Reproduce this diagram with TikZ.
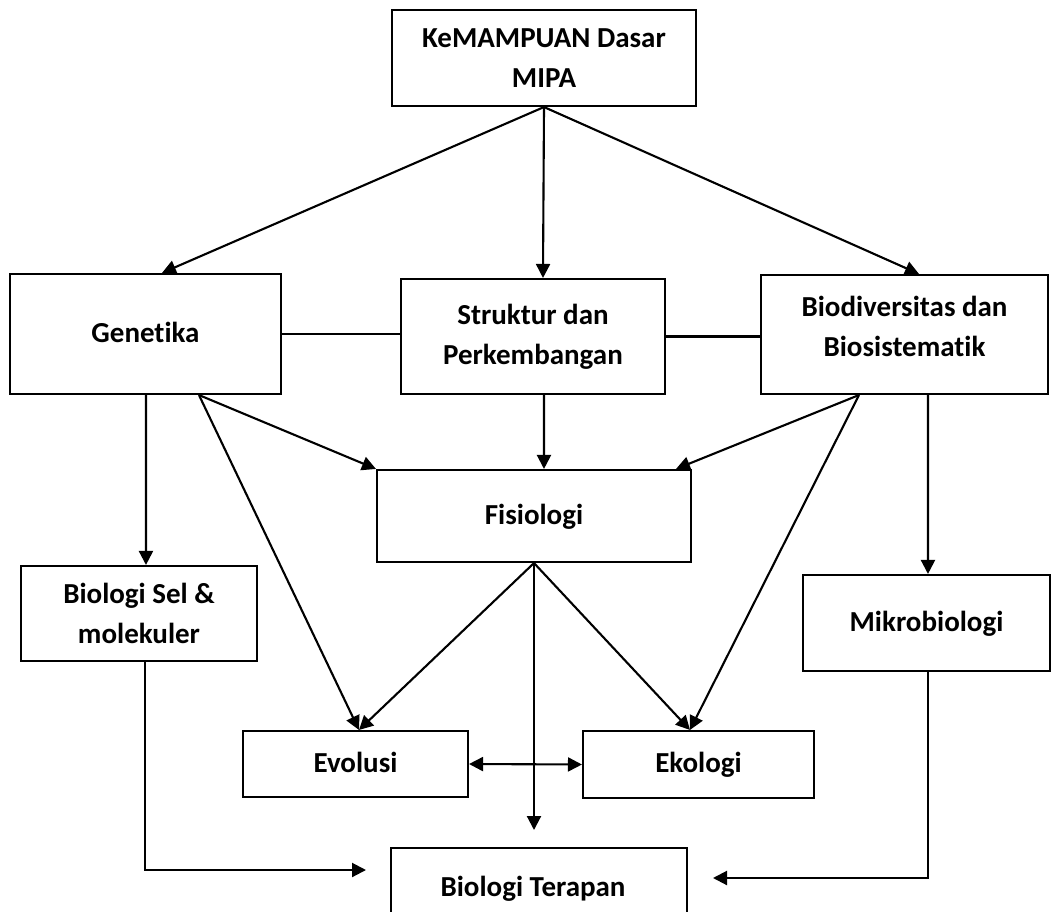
\documentclass[tikz,border=0pt]{standalone}
\usepackage{fontspec}
\setmainfont{Carlito}[Ligatures=NoCommon]
\usetikzlibrary{arrows.meta,calc}
\begin{document}
\begin{tikzpicture}[x=0.02cm,y=-0.02cm,
  lbl/.style={font=\fontsize{16.5}{22.8}\selectfont\bfseries},
  box/.style={draw,line width=1.2pt,inner sep=0pt,align=center,lbl},
  one/.style={text height=0.42cm,text depth=0.1cm},
  arr/.style={line width=1.2pt,-{Triangle[length=0.28cm,width=0.28cm]}},
  dbl/.style={line width=1.2pt,{Triangle[length=0.28cm,width=0.28cm]}-{Triangle[length=0.28cm,width=0.28cm]}},
  ln/.style={line width=1.2pt}]
\clip (0,0) rectangle (1051,912);
\fill[white] (0,0) rectangle (1051,912);
\node[box,minimum width=6.08cm,minimum height=1.92cm] (top) at (544,58) {KeMAMPUAN Dasar\\MIPA};
\node[box,one,minimum width=5.42cm,minimum height=2.40cm] (gen) at (145.5,334) {Genetika};
\node[box,minimum width=5.28cm,minimum height=2.30cm] (str) at (533,336.5) {Struktur dan\\Perkembangan};
\node[box,minimum width=5.74cm,minimum height=2.38cm,text depth=0.32cm] (bio) at (904.5,334.5) {Biodiversitas dan\\Biosistematik};
\node[box,one,minimum width=6.28cm,minimum height=1.84cm] (fis) at (534,516) {Fisiologi};
\node[box,minimum width=4.72cm,minimum height=1.90cm] (sel) at (139,613.5) {Biologi Sel \&\\molekuler};
\node[box,one,minimum width=4.94cm,minimum height=1.92cm] (mik) at (926.5,623) {Mikrobiologi};
\node[box,one,minimum width=4.50cm,minimum height=1.32cm] (evo) at (355.5,764) {Evolusi};
\node[box,one,minimum width=4.62cm,minimum height=1.34cm] (eko) at (698.5,764.5) {Ekologi};
\node[box,minimum width=5.92cm,minimum height=1.64cm] (ter) at (539,889) {};
\node[lbl,one] (terlbl) at (533,888) {Biologi Terapan};
\coordinate (c1) at (534,830);
\coordinate (c2) at (366,870);
\coordinate (c3) at (713,878);
% from top
\draw[arr] (top.south) -- ($(gen.north west)+(153,0)$);
\draw[arr] (top.south) -- ($(str.north west)+(143,0)$);
\draw[arr] (top.south) -- ($(bio.north west)+(159,0)$);
% links
\draw[ln] (gen.east) -- (gen.east -| str.west);
\draw[ln] (str.east) -- (str.east -| bio.west);
% to fisiologi
\draw[arr] ($(str.south west)+(144,0)$) -- ($(fis.north west)+(168,0)$);
\draw[arr] ($(gen.south west)+(190,0)$) -- (fis.north west);
\draw[arr] ($(bio.south west)+(99,0)$) -- ($(fis.north east)+(-16,0)$);
% genetika
\draw[arr] ($(gen.south west)+(137,0)$) -- ($(sel.north west)+(126,0)$);
\draw[arr] ($(gen.south west)+(190,0)$) -- ($(evo.north west)+(117,0)$);
% biodiversitas
\draw[arr] ($(bio.south west)+(99,0)$) -- ($(eko.north west)+(108,0)$);
\draw[arr] ($(bio.south west)+(168,0)$) -- ($(mik.north west)+(126,0)$);
% fisiologi
\draw[arr] (fis.south) -- ($(evo.north west)+(117,0)$);
\draw[arr] (fis.south) -- (c1);
\draw[arr] (fis.south) -- ($(eko.north west)+(108,0)$);
% evolusi ekologi
\draw[dbl] (evo.east) -- (eko.west);
% to terapan
\draw[arr] ($(sel.south west)+(125,0)$) |- (c2);
\draw[arr] ($(mik.south west)+(126,0)$) |- (c3);
\end{tikzpicture}
\end{document}
